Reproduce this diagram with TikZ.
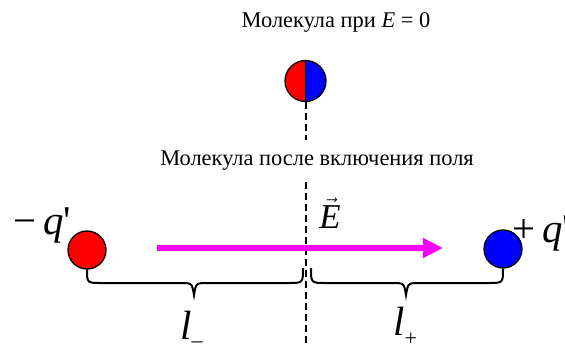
\documentclass[tikz,border=0pt]{standalone}
\usepackage{fontspec}
\setmainfont{Liberation Serif}
\usetikzlibrary{arrows.meta, positioning}
\definecolor{krasnyj}{RGB}{255,0,0}
\definecolor{sinij}{RGB}{0,0,255}
\definecolor{fuksia}{RGB}{255,0,255}
\tikzset{
    charge/.style={circle, draw, line width=1.3pt, minimum size=38bp, inner sep=0pt},
    skobka/.style={line width=2bp},
    os/.style={line width=2bp, dash pattern=on 7bp off 4bp},
    bolshoj/.style={font=\fontsize{41}{44}\selectfont, inner sep=0pt},
    podpis/.style={font=\fontsize{22.5}{26}\selectfont, inner sep=0pt, anchor=base},
}

\begin{document}
\begin{tikzpicture}[x=1bp, y=1bp]
\useasboundingbox (0,0) rectangle (565,345);
% molekula pri E = 0
\node[podpis] (t1) at (336,318) {Молекула при \textit{E} = 0};
\node[charge, minimum size=41bp, path picture={
    \fill[krasnyj] (path picture bounding box.south west) rectangle (path picture bounding box.north);
    \fill[sinij] (path picture bounding box.south) rectangle (path picture bounding box.north east);
    \draw[line width=1.3pt] (path picture bounding box.south) -- (path picture bounding box.north);
}] (mol) at (305.5,264) {};
\coordinate (os1) at (305.5,205);
\draw[os] (mol.south) -- (os1);
% posle vklyucheniya polya
\node[podpis] (t2) at (317,180) {Молекула после включения поля};
\coordinate (os2) at (305.5,163);
\coordinate (os3) at (305.5,0);
\draw[os] (os2) -- (os3);
\node[charge, fill=krasnyj] (minus) at (87,95) {};
\node[charge, fill=sinij] (plus) at (503,96) {};
\node[bolshoj, anchor=base west] (qm) at (13,111) {−\,\textit{q}\textquotesingle};
\node[bolshoj, anchor=base west] (qp) at (512,103) {+\,\textit{q}\textquotesingle};
% pole
\coordinate (e1) at (157,97);
\coordinate (e2) at (443,97);
\draw[fuksia, line width=6bp, -{Triangle[length=20bp, width=19bp]}] (e1) -- (e2);
\node[font=\fontsize{35}{38}\selectfont, inner sep=0pt, anchor=base] (E) at (330,117) {$\vec{\mbox{\textit{E}}}$};
% skobki
\coordinate (k1) at (303,77);
\coordinate (k2) at (311,77);
\draw[skobka] (minus.south) .. controls (87,62) .. (102,62) -- (180,62)
    .. controls (192,62) .. (194,50) .. controls (196,62) .. (208,62) -- (288,62)
    .. controls (303,62) .. (k1);
\draw[skobka] (k2) .. controls (311,62) .. (326,62) -- (392,62)
    .. controls (404,62) .. (406,50) .. controls (408,62) .. (420,62) -- (488,62)
    .. controls (503,62) .. (plus.south);
\node[bolshoj, anchor=base west] (lm) at (180,6) {\textit{l}\raisebox{-0.2em}{\fontsize{22}{22}\selectfont –}};
\node[bolshoj, anchor=base west] (lp) at (393,10) {\textit{l}\raisebox{-0.25em}{\fontsize{22}{22}\selectfont +}};
\end{tikzpicture}
\end{document}
